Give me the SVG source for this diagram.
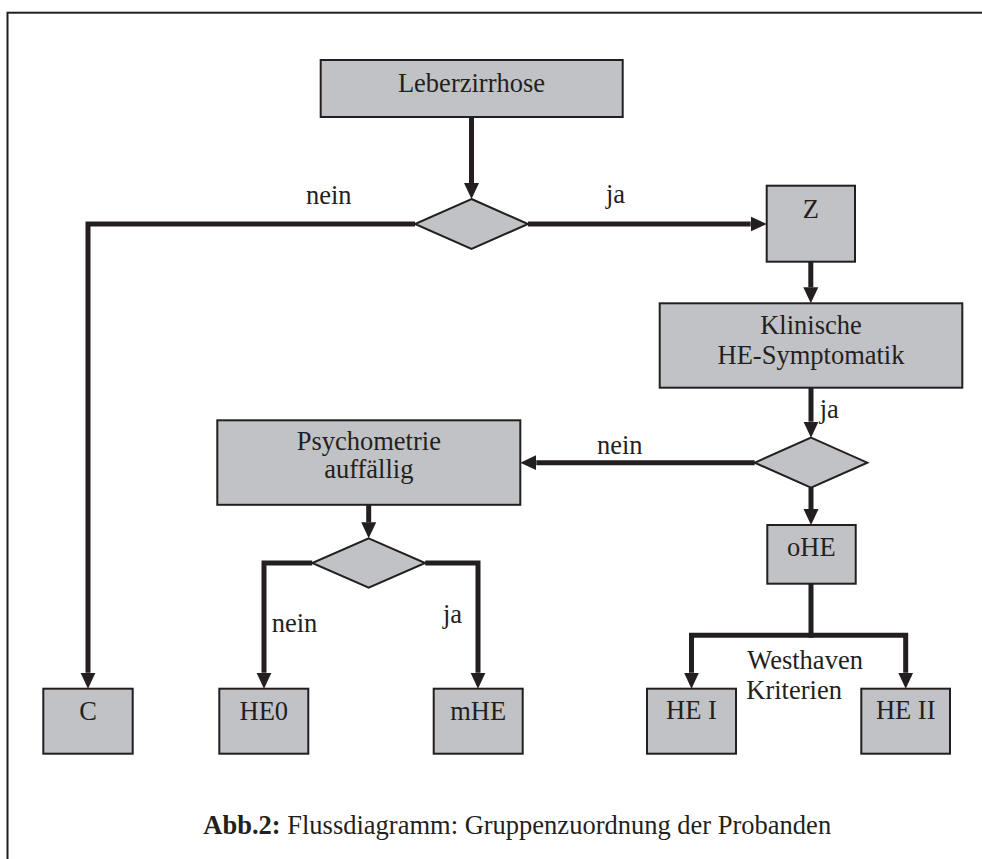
<svg xmlns="http://www.w3.org/2000/svg" width="982" height="859" viewBox="0 0 982 859">
<defs>
<style>
.box{fill:#c1c2c5;stroke:#231f20;stroke-width:2}
.dia{fill:#c1c2c5;stroke:#231f20;stroke-width:2}
.t{font-family:"Liberation Serif","Times New Roman",serif;font-size:26.5px;fill:#231f20}
.c{text-anchor:middle}
.ln{fill:none;stroke:#231f20;stroke-width:5;stroke-linejoin:miter;stroke-linecap:butt}
</style>
<marker id="ah" markerUnits="userSpaceOnUse" markerWidth="16" markerHeight="16" viewBox="0 0 16 16" refX="0" refY="8" orient="auto">
<path d="M0,0.5 L16,8 L0,15.5 z" fill="#231f20"/>
</marker>
</defs>
<rect x="0" y="0" width="982" height="859" fill="#ffffff"/>
<rect x="7.5" y="12.7" width="1000" height="900" fill="none" stroke="#231f20" stroke-width="2"/>

<g id="connectors">
<path class="ln" d="M471.5,117 V183" marker-end="url(#ah)"/>
<path class="ln" d="M415,224 H88 V672.7" marker-end="url(#ah)"/>
<path class="ln" d="M528,224 H750.7" marker-end="url(#ah)"/>
<path class="ln" d="M810.8,262 V287.3" marker-end="url(#ah)"/>
<path class="ln" d="M811,388 V421.7" marker-end="url(#ah)"/>
<path class="ln" d="M754.7,462.7 H536.3" marker-end="url(#ah)"/>
<path class="ln" d="M811,487.7 V509" marker-end="url(#ah)"/>
<path class="ln" d="M368.7,505 V522.3" marker-end="url(#ah)"/>
<path class="ln" d="M312.2,563 H264 V672.7" marker-end="url(#ah)"/>
<path class="ln" d="M425.2,563 H478 V672.7" marker-end="url(#ah)"/>
<path class="ln" d="M811,584 V635.3 H691.5 V672.7" marker-end="url(#ah)"/>
<path class="ln" d="M808.5,635.3 H905.7 V672.7" marker-end="url(#ah)"/>
<text class="t" x="306" y="204">nein</text>
<text class="t" x="606" y="203">ja</text>
<text class="t" x="819.7" y="417.7">ja</text>
<text class="t" x="597" y="454">nein</text>
<text class="t" x="271.7" y="632">nein</text>
<text class="t" x="443" y="622.7">ja</text>
<text class="t" x="747.3" y="668.7">Westhaven</text>
<text class="t" x="746.3" y="698.7">Kriterien</text>
</g>

<g id="n-leberzirrhose">
<rect class="box" x="320.7" y="60" width="302" height="57"/>
<text class="t c" x="471.5" y="92">Leberzirrhose</text>
</g>
<g id="d-1">
<polygon class="dia" points="471.5,199 528,224 471.5,249 415,224"/>
</g>
<g id="n-z">
<rect class="box" x="766.7" y="185.7" width="88.3" height="76"/>
<text class="t c" x="810.8" y="218">Z</text>
</g>
<g id="n-klinische">
<rect class="box" x="659.7" y="303.3" width="302.6" height="84.4"/>
<text class="t c" x="811" y="334">Klinische</text>
<text class="t c" x="811" y="364">HE-Symptomatik</text>
</g>
<g id="d-2">
<polygon class="dia" points="811,437.7 867.3,462.7 811,487.7 754.7,462.7"/>
</g>
<g id="n-psychometrie">
<rect class="box" x="217.3" y="420.3" width="303" height="84.5"/>
<text class="t c" x="368.8" y="450">Psychometrie</text>
<text class="t c" x="368.8" y="477.7">auffällig</text>
</g>
<g id="d-3">
<polygon class="dia" points="368.7,538.3 425.2,563 368.7,587.7 312.2,563"/>
</g>
<g id="n-ohe">
<rect class="box" x="767.3" y="525" width="88.4" height="58.7"/>
<text class="t c" x="811.3" y="556">oHE</text>
</g>
<g id="n-c">
<rect class="box" x="43.3" y="688.7" width="89.4" height="65"/>
<text class="t c" x="88" y="719.7">C</text>
</g>
<g id="n-he0">
<rect class="box" x="219.3" y="688.7" width="89" height="65"/>
<text class="t c" x="263.8" y="719.7">HE0</text>
</g>
<g id="n-mhe">
<rect class="box" x="433.7" y="688.7" width="89" height="65"/>
<text class="t c" x="478.2" y="719.7">mHE</text>
</g>
<g id="n-hei">
<rect class="box" x="647" y="688.7" width="89" height="65"/>
<text class="t c" x="691.5" y="718.7">HE I</text>
</g>
<g id="n-heii">
<rect class="box" x="861.3" y="688.7" width="88.7" height="65"/>
<text class="t c" x="905.7" y="718.7">HE II</text>
</g>

<text class="t" x="203.3" y="833.7"><tspan font-weight="bold">Abb.2:</tspan> Flussdiagramm: Gruppenzuordnung der Probanden</text>
</svg>
